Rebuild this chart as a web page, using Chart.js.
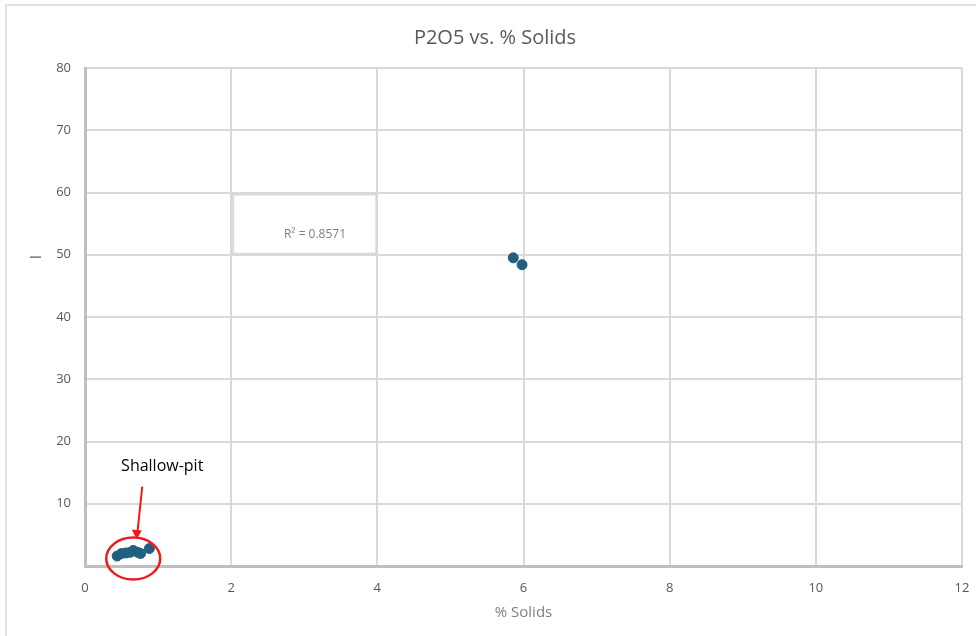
<!DOCTYPE html>
<html>
<head>
<meta charset="utf-8">
<script src="https://cdn.jsdelivr.net/npm/chart.js@4.4.1/dist/chart.umd.min.js"></script>
<style>
  html, body { margin: 0; padding: 0; background: #fff; }
  #wrap { width: 976px; height: 636px; position: relative; }
</style>
</head>
<body>
<div id="wrap"><canvas id="chart" width="976" height="636"></canvas></div>
<script>
// % Solids (x) and P2O5 (y)
const solids = [0.44, 0.50, 0.56, 0.62, 0.66, 0.72, 0.76, 0.88, 5.86, 5.98];
const p2o5 = [1.6, 2.0, 2.1, 2.2, 2.5, 2.2, 2.0, 2.8, 49.5, 48.4];
const xTicks = [0, 2, 4, 6, 8, 10, 12];
const yTicks = [0, 10, 20, 30, 40, 50, 60, 70, 80];
const rSquared = 'R\u00B2 = 0.8571';
const pitLabel = 'Shallow-pit';

const points = solids.map((x, i) => ({ x: x, y: p2o5[i] }));
const grey = '#595959';

const extras = {
    id: 'extras',
    beforeDraw(chart) {
        const ctx = chart.ctx;
        ctx.save();
        ctx.fillStyle = '#fff';
        ctx.fillRect(0, 0, chart.width, chart.height);
        // outer frame
        ctx.strokeStyle = '#d9d9d9';
        ctx.lineWidth = 1.5;
        ctx.strokeRect(6, 5, 1000, 700);
        ctx.restore();
    },
    afterDatasetsDraw(chart) {
        const ctx = chart.ctx;
        const xs = chart.scales.x, ys = chart.scales.y;
        ctx.save();

        // title
        ctx.fillStyle = grey;
        ctx.font = '20px "Open Sans", "Liberation Sans", sans-serif';
        ctx.textAlign = 'center';
        ctx.textBaseline = 'middle';
        ctx.fillText('P2O5 vs. % Solids', 495, 38);

        // y axis title
        ctx.save();
        ctx.translate(37, 257);
        ctx.rotate(-Math.PI / 2);
        ctx.font = '15px "Open Sans", sans-serif';
        ctx.fillStyle = grey;
        ctx.fillText('l', 0, 0);
        ctx.restore();

        // R² label box
        const bx1 = xs.getPixelForValue(2) + 2, bx2 = xs.getPixelForValue(4) - 1;
        const by1 = ys.getPixelForValue(60) + 2, by2 = ys.getPixelForValue(50) - 1;
        ctx.fillStyle = '#fff';
        ctx.fillRect(bx1, by1, bx2 - bx1, by2 - by1);
        ctx.strokeStyle = '#d9d9d9';
        ctx.lineWidth = 2;
        ctx.strokeRect(bx1, by1, bx2 - bx1, by2 - by1);
        ctx.fillStyle = '#7f7f7f';
        ctx.font = '12px "Open Sans", sans-serif';
        ctx.fillText(rSquared, 315, 235);

        // shallow-pit callout
        const cx = xs.getPixelForValue(0.66), cy = ys.getPixelForValue(1.2);
        ctx.strokeStyle = '#ee1c1c';
        ctx.lineWidth = 2.5;
        ctx.beginPath();
        ctx.ellipse(cx, cy, 27, 21, 0, 0, Math.PI * 2);
        ctx.stroke();

        ctx.lineWidth = 2;
        ctx.beginPath();
        ctx.moveTo(cx + 9, cy - 72);
        ctx.lineTo(cx + 4, cy - 24);
        ctx.stroke();
        ctx.fillStyle = '#ee1c1c';
        ctx.beginPath();
        ctx.moveTo(cx + 3.5, cy - 19);
        ctx.lineTo(cx - 1.5, cy - 29);
        ctx.lineTo(cx + 8.5, cy - 28);
        ctx.closePath();
        ctx.fill();

        ctx.fillStyle = '#000';
        ctx.font = '16px "Open Sans", sans-serif';
        ctx.fillText(pitLabel, cx + 29, 466);

        ctx.restore();
    }
};

new Chart(document.getElementById('chart'), {
    type: 'scatter',
    data: {
        datasets: [{
            data: points,
            backgroundColor: '#1f5f7f',
            borderColor: '#1f5f7f',
            pointRadius: 5,
            pointHoverRadius: 5
        }]
    },
    options: {
        responsive: false,
        animation: false,
        events: [],
        layout: { padding: { left: 0, right: 14, top: 68, bottom: 0 } },
        plugins: {
            legend: { display: false },
            tooltip: { enabled: false }
        },
        scales: {
            x: {
                type: 'linear',
                min: 0,
                max: 12,
                afterBuildTicks: (s) => { s.ticks = xTicks.map(v => ({ value: v })); },
                afterFit: (s) => { s.height = 70; s.paddingLeft = 0; s.paddingRight = 0; },
                grid: { color: '#d9d9d9', lineWidth: 2, drawTicks: false },
                border: { color: '#bfbfbf', width: 3 },
                ticks: { color: grey, padding: 14, font: { size: 13, family: '"Open Sans", sans-serif' } },
                title: {
                    display: true,
                    text: '% Solids',
                    color: '#7f7f7f',
                    padding: { top: 0, bottom: 14 },
                    font: { size: 15, family: '"Open Sans", sans-serif' }
                }
            },
            y: {
                type: 'linear',
                min: 0,
                max: 80,
                afterBuildTicks: (s) => { s.ticks = yTicks.map(v => ({ value: v })); },
                afterFit: (s) => { s.width = 85; s.paddingTop = 0; s.paddingBottom = 0; },
                grid: { color: '#d9d9d9', lineWidth: 2, drawTicks: false },
                border: { color: '#bfbfbf', width: 3 },
                ticks: {
                    color: grey,
                    padding: 14,
                    font: { size: 13, family: '"Open Sans", sans-serif' },
                    callback: (v) => (v === 0 ? '' : v)
                }
            }
        }
    },
    plugins: [extras]
});
</script>
</body>
</html>
